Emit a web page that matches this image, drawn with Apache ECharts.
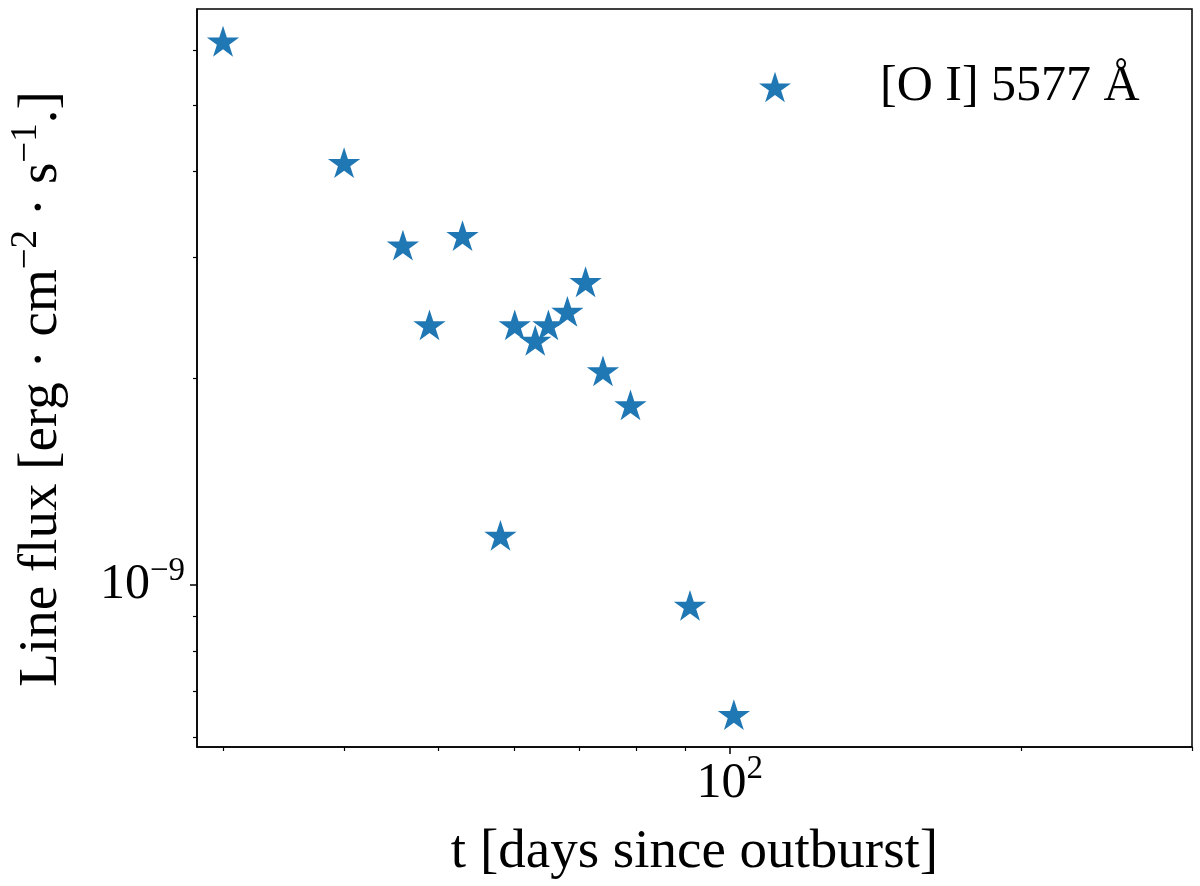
<!DOCTYPE html>
<html>
<head>
<meta charset="utf-8">
<script src="https://cdn.jsdelivr.net/npm/echarts@6/dist/echarts.min.js"></script>
<style>
html,body{margin:0;padding:0;background:#fff;}
#chart{width:1200px;height:886px;}
</style>
</head>
<body>
<div id="chart"></div>
<script>
// Data
const days = [30, 40, 46, 49, 53, 58, 60, 63, 65, 68, 71, 74, 79, 91, 101];
const flux = [6.16e-9, 4.10e-9, 3.11e-9, 2.38e-9, 3.21e-9, 1.175e-9, 2.38e-9, 2.26e-9, 2.38e-9, 2.49e-9, 2.75e-9, 2.04e-9, 1.82e-9, 0.929e-9, 0.644e-9];
const seriesName = '[O I] 5577 Å';
const xMajorTicks = [100];
const xMinorTicks = [30, 40, 50, 60, 70, 80, 90, 200, 300];
const yMajorTicks = [1e-9];
const yMinorTicks = [6e-10, 7e-10, 8e-10, 9e-10, 2e-9, 3e-9, 4e-9, 5e-9, 6e-9];

// matplotlib '*' marker shape
function starPath() {
  const pts = [];
  for (let i = 0; i < 10; i++) {
    const a = (-90 + i * 36) * Math.PI / 180;
    const r = i % 2 === 0 ? 1 : 0.381966;
    pts.push((r * Math.cos(a)).toFixed(4) + ' ' + (r * Math.sin(a)).toFixed(4));
  }
  return 'path://M' + pts.join(' L') + ' Z';
}
const STAR = starPath();
const FONT = 'Liberation Serif';
const C = '#1f77b4';

function powLabel(v) {
  const e = Math.round(Math.log10(v));
  return '{b|10}{s|' + (e < 0 ? '\u2212' + (-e) : e) + '}';
}
const richTick = {
  b: {fontFamily: FONT, fontSize: 50, color: '#000'},
  s: {fontFamily: FONT, fontSize: 33, color: '#000', padding: [0, 0, 28, 0]}
};

const chart = echarts.init(document.getElementById('chart'), null, {renderer: 'canvas'});
const xMin = 28.2, xMax = 300, yMin = 5.81e-10, yMax = 6.9e-9;

const option = {
  animation: false,
  backgroundColor: '#fff',
  grid: {left: 197, right: 8, top: 9, bottom: 139, show: true, borderColor: '#000', borderWidth: 1.5, backgroundColor: 'transparent'},
  legend: {
    show: true,
    left: 759, top: 62, padding: 0,
    itemWidth: 32, itemHeight: 31,
    data: [{name: seriesName, icon: STAR}],
    textStyle: {fontFamily: FONT, fontSize: 50, color: '#000', padding: [0, 0, 0, 84]}
  },
  xAxis: [
    {
      type: 'log', logBase: 10, min: xMin, max: xMax,
      name: 't [days since outburst]', nameLocation: 'middle', nameGap: 78,
      nameTextStyle: {fontFamily: FONT, fontSize: 55, color: '#000'},
      axisLine: {show: true, onZero: false, lineStyle: {color: '#000', width: 1.5}},
      axisTick: {show: true, length: 7, customValues: xMajorTicks, lineStyle: {color: '#000', width: 1.5}},
      axisLabel: {show: true, margin: 6, customValues: xMajorTicks, formatter: powLabel, rich: richTick},
      splitLine: {show: false}
    },
    {
      type: 'log', logBase: 10, min: xMin, max: xMax, position: 'bottom',
      axisLine: {show: false},
      axisTick: {show: true, length: 4, customValues: xMinorTicks, lineStyle: {color: '#000', width: 1.2}},
      axisLabel: {show: false},
      splitLine: {show: false}
    }
  ],
  yAxis: [
    {
      type: 'log', logBase: 10, min: yMin, max: yMax,
      name: '{a|Line flux [erg · cm}{s|\u22122}{a| · s}{s|\u22121}{e|.]}',
      nameLocation: 'middle', nameRotate: 90, nameGap: 122,
      nameTextStyle: {
        rich: {
          a: {fontFamily: FONT, fontSize: 55, color: '#000'},
          e: {fontFamily: FONT, fontSize: 55, color: '#000', padding: [0, 22, 0, 0]},
          s: {fontFamily: FONT, fontSize: 37, color: '#000', padding: [0, 0, 30, 0]}
        }
      },
      axisLine: {show: true, onZero: false, lineStyle: {color: '#000', width: 1.5}},
      axisTick: {show: true, length: 7, customValues: yMajorTicks, lineStyle: {color: '#000', width: 1.5}},
      axisLabel: {show: true, margin: 12, customValues: yMajorTicks, formatter: powLabel, rich: richTick},
      splitLine: {show: false}
    },
    {
      type: 'log', logBase: 10, min: yMin, max: yMax, position: 'left',
      axisLine: {show: false},
      axisTick: {show: true, length: 4, customValues: yMinorTicks, lineStyle: {color: '#000', width: 1.2}},
      axisLabel: {show: false},
      splitLine: {show: false}
    }
  ],
  series: [{
    name: seriesName,
    type: 'scatter',
    xAxisIndex: 0, yAxisIndex: 0,
    symbol: STAR,
    symbolSize: [32.3, 30.8],
    symbolOffset: [0, -1.6],
    itemStyle: {color: C, opacity: 1},
    data: days.map((d, i) => [d, flux[i]])
  }]
};
chart.setOption(option);
</script>
</body>
</html>
